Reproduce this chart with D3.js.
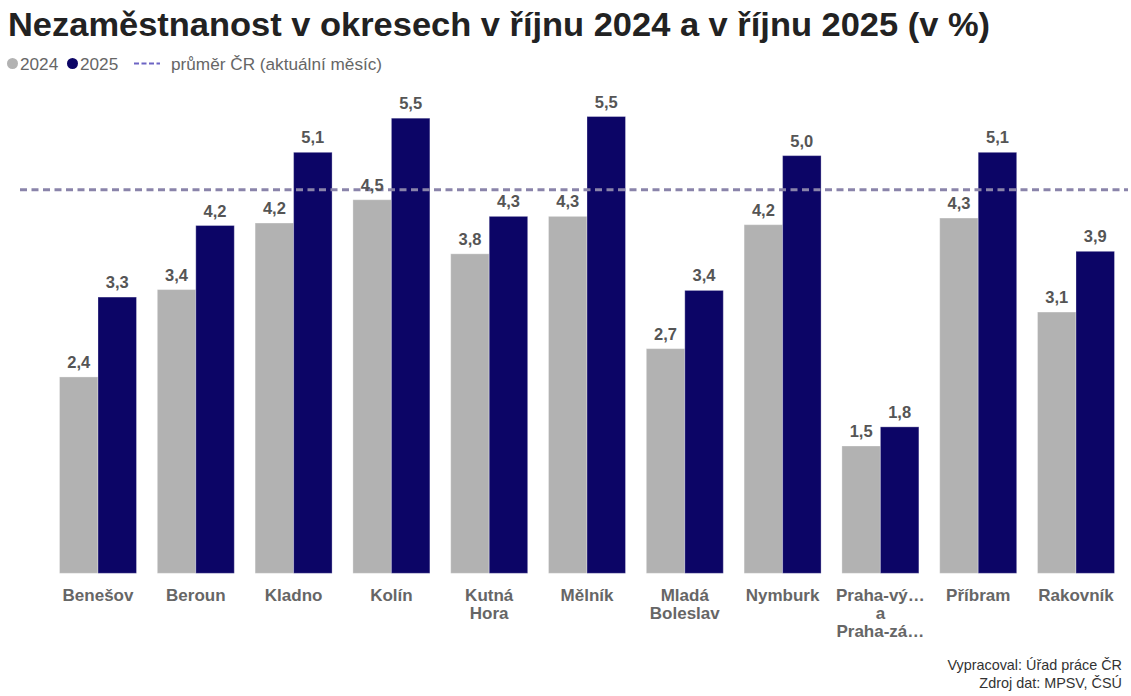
<!DOCTYPE html>
<html><head><meta charset="utf-8">
<script src="https://cdn.jsdelivr.net/npm/d3@7"></script>
<style>
html,body{margin:0;padding:0;background:#fff;}
svg{display:block;font-family:"Liberation Sans",Arial,sans-serif;}
</style></head>
<body>
<script>
const categories = ["Benešov","Beroun","Kladno","Kolín","Kutná Hora","Mělník","Mladá Boleslav","Nymburk","Praha-východ a Praha-západ","Příbram","Rakovník"];
const categoryLabels = [["Benešov"],["Beroun"],["Kladno"],["Kolín"],["Kutná","Hora"],["Mělník"],["Mladá","Boleslav"],["Nymburk"],["Praha-vý…","a","Praha-zá…"],["Příbram"],["Rakovník"]];
const values2024 = [2.36,3.41,4.21,4.49,3.84,4.29,2.70,4.19,1.53,4.27,3.14];
const values2025 = [3.32,4.18,5.06,5.47,4.29,5.49,3.40,5.02,1.76,5.06,3.87];
const averageCR = 4.61;
const seriesNames = ["2024","2025"];
const seriesColors = ["#b2b2b2","#0c0566"];
const title = "Nezaměstnanost v okresech v říjnu 2024 a v říjnu 2025 (v %)";
const avgLabel = "průměr ČR (aktuální měsíc)";
const footer = ["Vypracoval: Úřad práce ČR","Zdroj dat: MPSV, ČSÚ"];

const W=1131,H=696;
const svg=d3.select("body").append("svg").attr("width",W).attr("height",H);

svg.append("text").attr("x",8).attr("y",36).attr("font-size",33).attr("font-weight","bold")
  .attr("fill","#222").attr("textLength",982).attr("lengthAdjust","spacingAndGlyphs").text(title);

// legend
const lg=svg.append("g");
lg.append("circle").attr("cx",12.5).attr("cy",63.5).attr("r",5.5).attr("fill",seriesColors[0]);
lg.append("text").attr("x",20).attr("y",69.5).attr("font-size",17.2).attr("fill","#666").text(seriesNames[0]);
lg.append("circle").attr("cx",72.5).attr("cy",63.5).attr("r",5.5).attr("fill",seriesColors[1]);
lg.append("text").attr("x",80).attr("y",69.5).attr("font-size",17.2).attr("fill","#666").text(seriesNames[1]);
lg.append("line").attr("x1",134).attr("x2",160).attr("y1",63.5).attr("y2",63.5)
  .attr("stroke","#6d64c4").attr("stroke-width",2).attr("stroke-dasharray","5,2.5");
lg.append("text").attr("x",171).attr("y",69.5).attr("font-size",17.2).attr("fill","#666").text(avgLabel);

const x=d3.scaleBand().domain(categories).range([49.1,1124.9]).paddingInner(0.213).paddingOuter(0.1065);
const xs=d3.scaleBand().domain(seriesNames).range([0,x.bandwidth()]);
const y=d3.scaleLinear().domain([0,6]).range([573.3,74.1]);

const data=[];
categories.forEach((c,i)=>{
  data.push({c,s:seriesNames[0],v:values2024[i],col:seriesColors[0]});
  data.push({c,s:seriesNames[1],v:values2025[i],col:seriesColors[1]});
});

svg.append("g").selectAll("rect").data(data).join("rect")
  .attr("x",d=>x(d.c)+xs(d.s)).attr("width",xs.bandwidth())
  .attr("y",d=>y(d.v)).attr("height",d=>y(0)-y(d.v))
  .attr("fill",d=>d.col).attr("stroke","rgba(255,255,255,0.3)").attr("stroke-width",1);

svg.append("line").attr("x1",20).attr("x2",1128).attr("y1",y(averageCR)).attr("y2",y(averageCR))
  .attr("stroke","#8a84aa").attr("stroke-width",2.8).attr("stroke-dasharray","7,4.5");

const fmt=d3.format(".1f");
svg.append("g").selectAll("text").data(data).join("text")
  .attr("x",d=>x(d.c)+xs(d.s)+xs.bandwidth()/2).attr("y",d=>y(d.v)-9)
  .attr("text-anchor","middle").attr("font-size",16.5).attr("font-weight","bold").attr("fill","#555")
  .text(d=>fmt(d.v).replace(".",","));

// x axis labels
const xa=svg.append("g").attr("transform","translate(0,573.3)")
  .call(d3.axisBottom(x).tickSize(0).tickFormat(""));
xa.select(".domain").remove();
xa.selectAll(".tick").each(function(d,i){
  const t=d3.select(this).append("text").attr("text-anchor","middle").attr("font-size",17)
    .attr("font-weight","bold").attr("fill","#666").attr("y",28);
  categoryLabels[i].forEach((ln,j)=>t.append("tspan").attr("x",0).attr("dy",j?18:0).text(ln));
});

svg.append("g").selectAll("text").data(footer).join("text")
  .attr("x",1122).attr("y",(d,i)=>670+i*18).attr("text-anchor","end")
  .attr("font-size",14.4).attr("fill","#333").text(d=>d);
</script>
</body></html>
